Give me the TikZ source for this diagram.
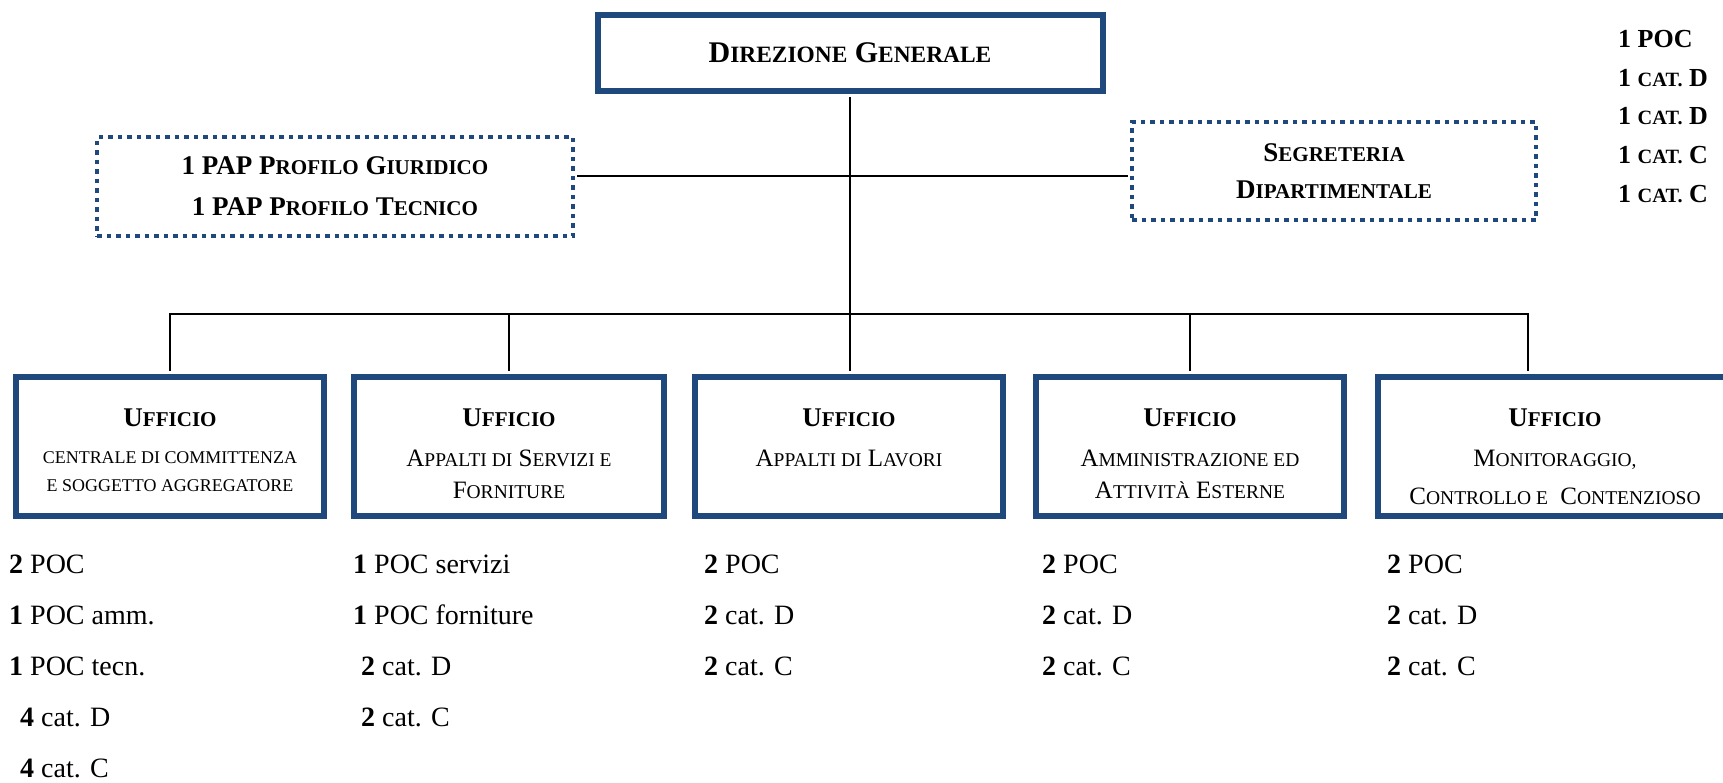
\documentclass[tikz,border=0pt]{standalone}
\usepackage{fontspec}
\setmainfont{Liberation Serif}
\usepackage{graphicx}
\usepackage{xcolor}
\usepackage{tikz}

\definecolor{rahmen}{RGB}{31,73,125}

% Kapitälchen von Hand (kleine Versalien)
\newcommand{\kl}[1]{\scalebox{0.78}{#1}}

% Inhalt eines Ufficio-Kastens: Breite, Schrift, Text
\newcommand{\ufficio}[3]{\parbox[c][139pt][t]{#1}{\centering
    \fontsize{27}{40}\selectfont\rule{0pt}{49pt}\textbf{U\kl{FFICIO}}\par
    #2 #3\par}}

\begin{document}
\begin{tikzpicture}[x=1pt, y=-1pt,
    linie/.style={line width=2pt, black},
    hauptbox/.style={draw=rahmen, line width=6pt, fill=white, inner sep=0pt, align=center},
    punktbox/.style={draw=rahmen, line width=4.5pt, dash pattern=on 4.5pt off 5pt, fill=white, inner sep=0pt, align=center},
    liste/.style={anchor=north west, inner sep=0pt, align=left, font=\fontsize{28}{51}\selectfont}]

    % --- 1. RAHMEN ---
    \useasboundingbox (0,0) rectangle (1723,782);
    \clip (0,0) rectangle (1723,782);

    % --- 2. OBERE EBENE ---
    \node[hauptbox, minimum width=505pt, minimum height=76pt, font=\fontsize{30}{36}\selectfont] (dg) at (850,53)
        {\textbf{D\kl{IREZIONE} G\kl{ENERALE}}};

    \node[punktbox, minimum width=476pt, minimum height=99pt, font=\fontsize{27}{41}\selectfont] (pap) at (335,186.5)
        {\textbf{1 PAP P\kl{ROFILO} G\kl{IURIDICO}}\\ \textbf{1 PAP P\kl{ROFILO} T\kl{ECNICO}}};

    \node[punktbox, minimum width=404pt, minimum height=98pt, font=\fontsize{27}{37}\selectfont] (seg) at (1334,171)
        {\textbf{S\kl{EGRETERIA}}\\ \textbf{D\kl{IPARTIMENTALE}}};

    % Personal der Segreteria
    \node[anchor=north west, inner sep=0pt, align=left, font=\fontsize{26}{38.7}\selectfont\bfseries] (stab) at (1618,30)
        {1 POC\\ 1 \kl{CAT.} D\\ 1 \kl{CAT.} D\\ 1 \kl{CAT.} C\\ 1 \kl{CAT.} C};

    % --- 3. UFFICI ---
    \node[hauptbox, minimum width=308pt, minimum height=139pt] (u1) at (170,446.5)
        {\ufficio{300pt}{\fontsize{23}{28}\selectfont\vspace{9pt}}{\kl{CENTRALE DI COMMITTENZA}\\ \kl{E SOGGETTO AGGREGATORE}}};
    \node[hauptbox, minimum width=310pt, minimum height=139pt] (u2) at (509,446.5)
        {\ufficio{300pt}{\fontsize{25}{32}\selectfont\vspace{8pt}}{A\kl{PPALTI DI} S\kl{ERVIZI E}\\ F\kl{ORNITURE}}};
    \node[hauptbox, minimum width=308pt, minimum height=139pt] (u3) at (849,446.5)
        {\ufficio{300pt}{\fontsize{25}{32}\selectfont\vspace{8pt}}{A\kl{PPALTI DI} L\kl{AVORI}}};
    \node[hauptbox, minimum width=308pt, minimum height=139pt] (u4) at (1190,446.5)
        {\ufficio{300pt}{\fontsize{25}{32}\selectfont\vspace{8pt}}{A\kl{MMINISTRAZIONE ED}\\ A\kl{TTIVITÀ} E\kl{STERNE}}};
    \node[hauptbox, minimum width=354pt, minimum height=139pt] (u5) at (1555,446.5)
        {\ufficio{346pt}{\fontsize{25}{32}\selectfont\vspace{8pt}}{M\kl{ONITORAGGIO,}\\[6pt] C\kl{ONTROLLO~E}~~C\kl{ONTENZIOSO}}};

    % --- 4. VERBINDUNGEN ---
    \coordinate (quer) at (850,176);
    \coordinate (bus) at (850,314);
    \coordinate (u5an) at ([xshift=-27pt]u5.north);
    \draw[linie, shorten <=3pt, shorten >=3pt] (dg.south) -- (dg.south |- u3.north);
    \draw[linie, shorten <=2pt, shorten >=2pt] (pap.east |- quer) -- (seg.west |- quer);
    \draw[linie, shorten <=3pt, shorten >=3pt] (u1.north) -- (u1.north |- bus) -- (u5an |- bus) -- (u5an);
    \foreach \u in {u2,u4}
        \draw[linie, shorten <=3pt] (\u.north) -- (\u.north |- bus);

    % --- 5. PERSONAL DER UFFICI ---
    \node[liste] (l1) at (9,555) {\textbf{2} POC\\ \textbf{1} POC amm.\\ \textbf{1} POC tecn.\\
        \hspace*{11pt}\textbf{4} cat. D\\ \hspace*{11pt}\textbf{4} cat. C};
    \node[liste] (l2) at (353,555) {\textbf{1} POC servizi\\ \textbf{1} POC forniture\\
        \hspace*{8pt}\textbf{2} cat. D\\ \hspace*{8pt}\textbf{2} cat. C};
    \node[liste] (l3) at (704,555) {\textbf{2} POC\\ \textbf{2} cat. D\\ \textbf{2} cat. C};
    \node[liste] (l4) at (1042,555) {\textbf{2} POC\\ \textbf{2} cat. D\\ \textbf{2} cat. C};
    \node[liste] (l5) at (1387,555) {\textbf{2} POC\\ \textbf{2} cat. D\\ \textbf{2} cat. C};
\end{tikzpicture}
\end{document}
